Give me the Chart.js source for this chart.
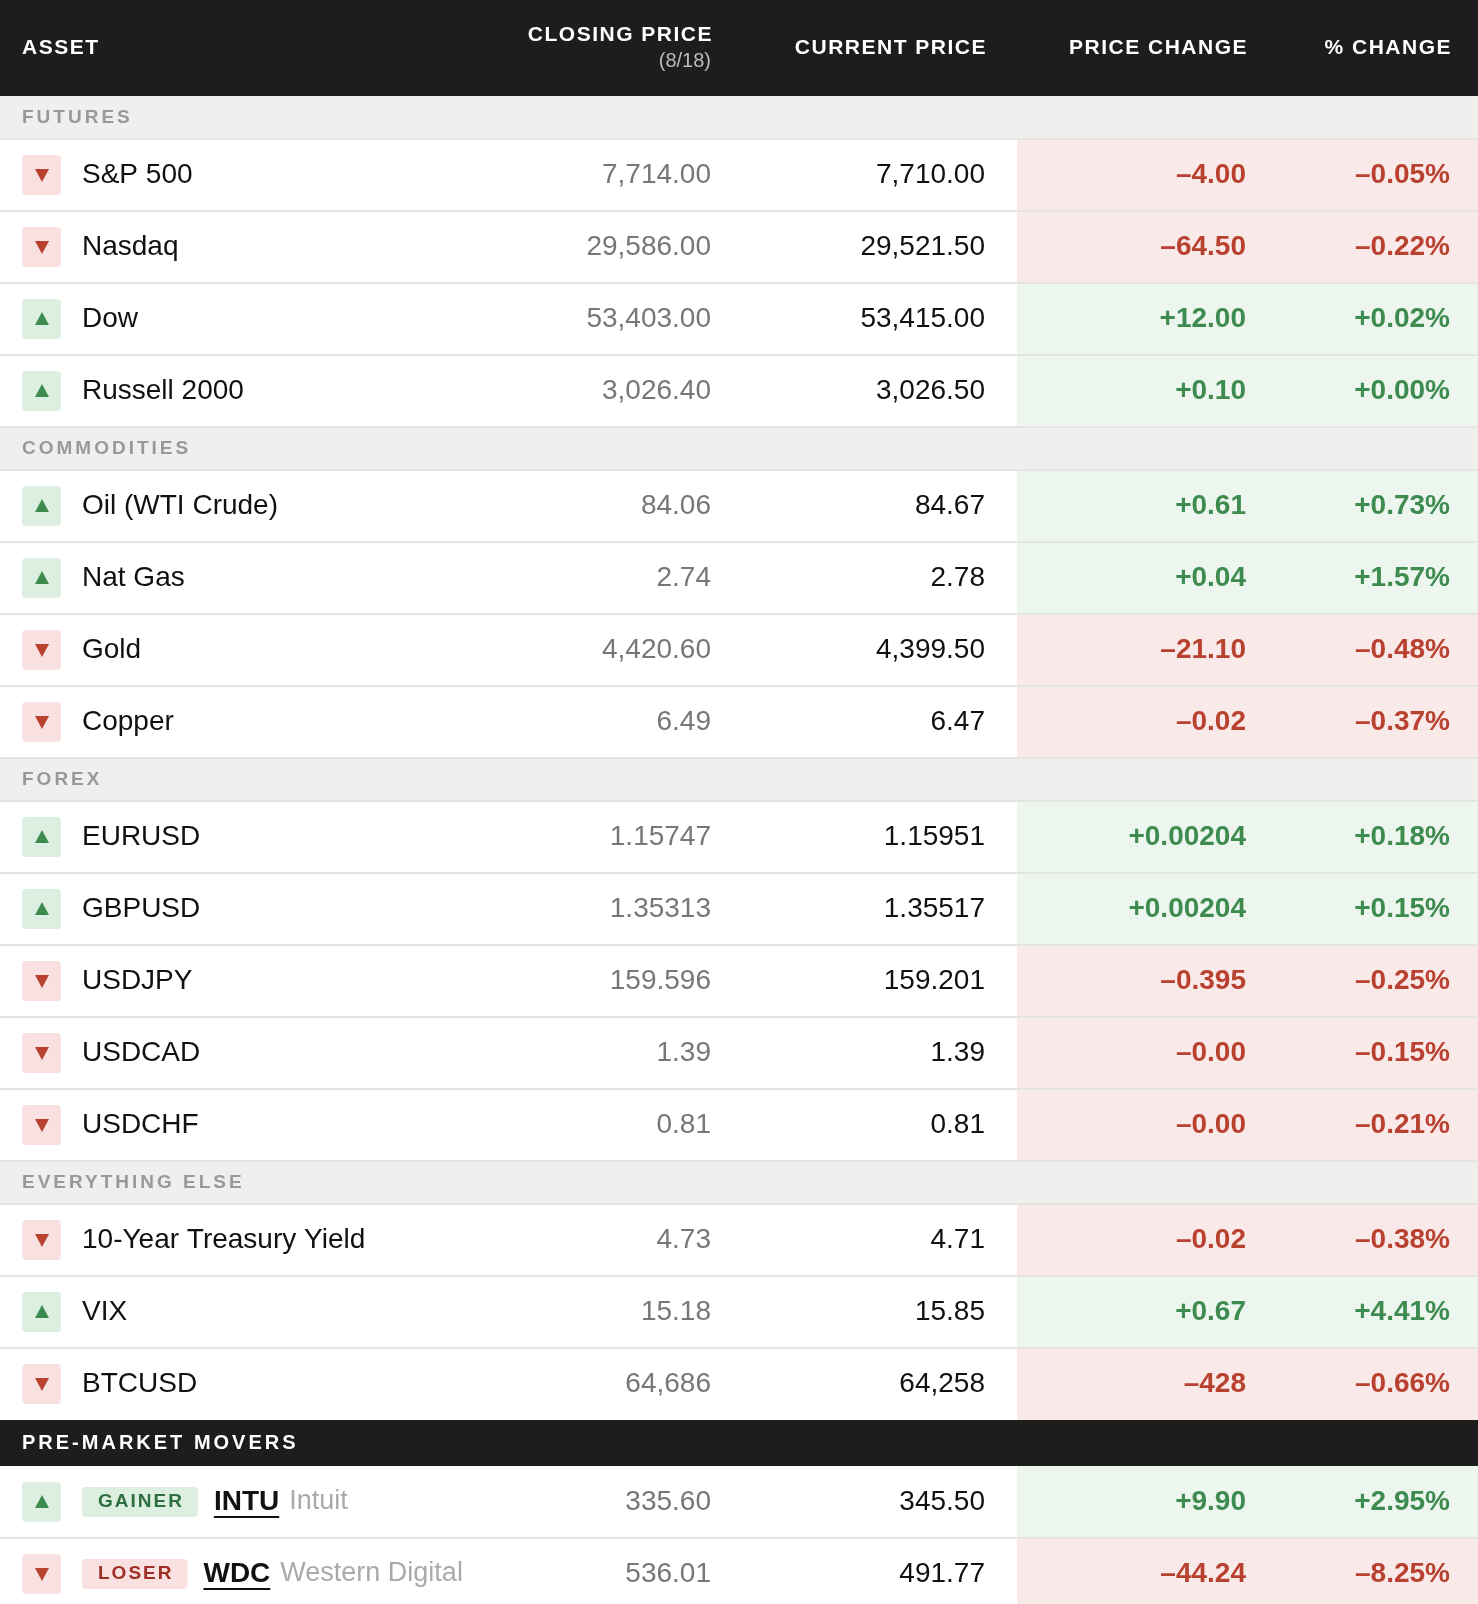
<!DOCTYPE html>
<html>
<head>
<meta charset="utf-8">
<script src="https://cdn.jsdelivr.net/npm/chart.js@4"></script>
<style>
body { margin: 0; background: #fff; }
canvas { display: block; }
</style>
</head>
<body>
<canvas id="mycanvas" width="1478" height="1604"></canvas>
<script>
// table data
var sections = ["FUTURES", "COMMODITIES", "FOREX", "EVERYTHING ELSE"];
var sectionOf = [0, 0, 0, 0, 1, 1, 1, 1, 2, 2, 2, 2, 2, 3, 3, 3];
var assets = ["S&P 500", "Nasdaq", "Dow", "Russell 2000", "Oil (WTI Crude)", "Nat Gas", "Gold", "Copper",
	"EURUSD", "GBPUSD", "USDJPY", "USDCAD", "USDCHF", "10-Year Treasury Yield", "VIX", "BTCUSD"];
var closing = ["7,714.00", "29,586.00", "53,403.00", "3,026.40", "84.06", "2.74", "4,420.60", "6.49",
	"1.15747", "1.35313", "159.596", "1.39", "0.81", "4.73", "15.18", "64,686"];
var current = ["7,710.00", "29,521.50", "53,415.00", "3,026.50", "84.67", "2.78", "4,399.50", "6.47",
	"1.15951", "1.35517", "159.201", "1.39", "0.81", "4.71", "15.85", "64,258"];
var priceChange = ["\u20134.00", "\u201364.50", "+12.00", "+0.10", "+0.61", "+0.04", "\u201321.10", "\u20130.02",
	"+0.00204", "+0.00204", "\u20130.395", "\u20130.00", "\u20130.00", "\u20130.02", "+0.67", "\u2013428"];
var pctChange = ["\u20130.05%", "\u20130.22%", "+0.02%", "+0.00%", "+0.73%", "+1.57%", "\u20130.48%", "\u20130.37%",
	"+0.18%", "+0.15%", "\u20130.25%", "\u20130.15%", "\u20130.21%", "\u20130.38%", "+4.41%", "\u20130.66%"];

var movers = ["INTU", "WDC"];
var moverNames = ["Intuit", "Western Digital"];
var moverTags = ["GAINER", "LOSER"];
var moverClosing = ["335.60", "536.01"];
var moverCurrent = ["345.50", "491.77"];
var moverChange = ["+9.90", "\u201344.24"];
var moverPct = ["+2.95%", "\u20138.25%"];

var headers = ["ASSET", "CLOSING PRICE", "CURRENT PRICE", "PRICE CHANGE", "% CHANGE"];

// layout
var W = 1478, H = 1604;
var HEAD = 96, SEC = 43, ROW = 72, MOVHEAD = 46;
var colRight = [0, 711, 985, 1246, 1450];
var shadeLeft = 1017;
var RED = "#b8412f", GREEN = "#3d8b4f";
var FONT = "'Liberation Sans', Arial, sans-serif";

// build row list
var rows = [];
var y = HEAD;
var lastSec = -1;
for (var i = 0; i < assets.length; i++) {
	if (sectionOf[i] != lastSec) {
		lastSec = sectionOf[i];
		rows.push({ kind: "sec", top: y, h: SEC, label: sections[lastSec] });
		y += SEC;
	}
	rows.push({ kind: "asset", top: y, h: ROW, i: i, up: priceChange[i][0] == "+" });
	y += ROW;
}
rows.push({ kind: "movhead", top: y, h: MOVHEAD, label: "PRE-MARKET MOVERS" });
y += MOVHEAD;
for (var m = 0; m < movers.length; m++) {
	rows.push({ kind: "mover", top: y, h: ROW, i: m, up: moverChange[m][0] == "+" });
	y += ROW;
}

function rrect(ctx, x, y, w, h, r) {
	ctx.beginPath();
	ctx.moveTo(x + r, y);
	ctx.arcTo(x + w, y, x + w, y + h, r);
	ctx.arcTo(x + w, y + h, x, y + h, r);
	ctx.arcTo(x, y + h, x, y, r);
	ctx.arcTo(x, y, x + w, y, r);
	ctx.closePath();
}

function txt(ctx, s, x, y, font, color, align, spacing) {
	ctx.font = font;
	ctx.fillStyle = color;
	ctx.textAlign = align || "left";
	ctx.textBaseline = "middle";
	ctx.letterSpacing = spacing || "0px";
	ctx.fillText(s, x, y);
	ctx.letterSpacing = "0px";
}

function icon(ctx, cy, up) {
	ctx.fillStyle = up ? "#dcefe0" : "#f9e1e1";
	rrect(ctx, 22, cy - 20, 39, 40, 4);
	ctx.fill();
	ctx.fillStyle = up ? GREEN : RED;
	ctx.beginPath();
	if (up) {
		ctx.moveTo(42, cy - 7); ctx.lineTo(49, cy + 6); ctx.lineTo(35, cy + 6);
	} else {
		ctx.moveTo(35, cy - 6); ctx.lineTo(49, cy - 6); ctx.lineTo(42, cy + 7);
	}
	ctx.closePath();
	ctx.fill();
}

var backgroundPlugin = {
	id: "tableBack",
	beforeDatasetsDraw: function (chart) {
		var ctx = chart.ctx;
		var xs = chart.scales.x, ys = chart.scales.y;
		ctx.save();
		ctx.fillStyle = "#1d1d1d";
		ctx.fillRect(0, 0, W, HEAD);
		rows.forEach(function (r) {
			var t = ys.getPixelForValue(r.top), b = ys.getPixelForValue(r.top + r.h);
			if (r.kind == "sec") {
				ctx.fillStyle = "#efefed";
				ctx.fillRect(0, t, W, b - t);
			} else if (r.kind == "movhead") {
				ctx.fillStyle = "#1d1d1d";
				ctx.fillRect(0, t, W, b - t);
			} else {
				// change columns shading
				var l = xs.getPixelForValue(shadeLeft);
				ctx.fillStyle = r.up ? "#ecf5ee" : "#f9e9e8";
				ctx.fillRect(l, t, xs.getPixelForValue(W) - l, b - t);
			}
		});
		ctx.restore();
	}
};

var textPlugin = {
	id: "tableText",
	afterDatasetsDraw: function (chart) {
		var ctx = chart.ctx;
		var xs = chart.scales.x;
		ctx.save();
		// row rules
		ctx.fillStyle = "#e4e4e4";
		rows.forEach(function (r, k) {
			if (k > 0 && rows[k - 1].kind != "movhead" && r.kind != "movhead") ctx.fillRect(0, r.top - 1, W, 2);
		});
		// header
		var hb = "bold 21px " + FONT;
		txt(ctx, headers[0], 22, 48, hb, "#fff", "left", "1.5px");
		txt(ctx, headers[1], xs.getPixelForValue(colRight[1]) + 2, 35, hb, "#fff", "right", "1.5px");
		txt(ctx, "(8/18)", xs.getPixelForValue(colRight[1]), 61, "20px " + FONT, "#bbb", "right");
		for (var c = 2; c < 5; c++) txt(ctx, headers[c], xs.getPixelForValue(colRight[c]) + 2, 48, hb, "#fff", "right", "1.5px");

		rows.forEach(function (r) {
			var cy = r.top + r.h / 2;
			if (r.kind == "sec") {
				txt(ctx, r.label, 22, cy, "bold 19px " + FONT, "#999", "left", "3px");
			} else if (r.kind == "movhead") {
				txt(ctx, r.label, 22, cy, "bold 20px " + FONT, "#fff", "left", "3px");
			} else {
				var col = r.up ? GREEN : RED;
				icon(ctx, cy, r.up);
				var cl, cu, pc, pp;
				if (r.kind == "asset") {
					txt(ctx, assets[r.i], 82, cy, "28px " + FONT, "#111");
					cl = closing[r.i]; cu = current[r.i]; pc = priceChange[r.i]; pp = pctChange[r.i];
				} else {
					var tag = moverTags[r.i];
					ctx.font = "bold 19px " + FONT;
					ctx.letterSpacing = "2px";
					var tw = ctx.measureText(tag).width + 30;
					ctx.letterSpacing = "0px";
					ctx.fillStyle = r.up ? "#dcefe0" : "#f9e1e1";
					rrect(ctx, 82, cy - 15, tw, 30, 4);
					ctx.fill();
					txt(ctx, tag, 82 + tw / 2 + 1, cy, "bold 19px " + FONT, r.up ? "#2f6e3e" : "#9e2f25", "center", "2px");
					var x0 = 82 + tw + 16;
					ctx.font = "bold 28px " + FONT;
					var sw = ctx.measureText(movers[r.i]).width;
					txt(ctx, movers[r.i], x0, cy, "bold 28px " + FONT, "#111");
					ctx.fillStyle = "#111";
					ctx.fillRect(x0, cy + 14, sw, 2);
					txt(ctx, moverNames[r.i], x0 + sw + 10, cy, "27px " + FONT, "#aaa");
					cl = moverClosing[r.i]; cu = moverCurrent[r.i]; pc = moverChange[r.i]; pp = moverPct[r.i];
				}
				txt(ctx, cl, xs.getPixelForValue(colRight[1]), cy, "28px " + FONT, "#777", "right");
				txt(ctx, cu, xs.getPixelForValue(colRight[2]), cy, "28px " + FONT, "#111", "right");
				txt(ctx, pc, xs.getPixelForValue(colRight[3]), cy, "bold 28px " + FONT, col, "right");
				txt(ctx, pp, xs.getPixelForValue(colRight[4]), cy, "bold 28px " + FONT, col, "right");
			}
		});
		ctx.restore();
	}
};

var ctx = document.getElementById("mycanvas").getContext('2d');
var myChart = new Chart(ctx, {
	type: 'scatter',
	data: { datasets: [{ label: 'table', data: [], pointRadius: 0 }] },
	options: {
		responsive: false,
		animation: false,
		devicePixelRatio: 1,
		layout: { padding: 0 },
		plugins: { legend: { display: false }, tooltip: { enabled: false } },
		scales: {
			x: { type: 'linear', min: 0, max: W, display: false },
			y: { type: 'linear', min: 0, max: H, reverse: true, display: false }
		}
	},
	plugins: [backgroundPlugin, textPlugin]
});
</script>
</body>
</html>
